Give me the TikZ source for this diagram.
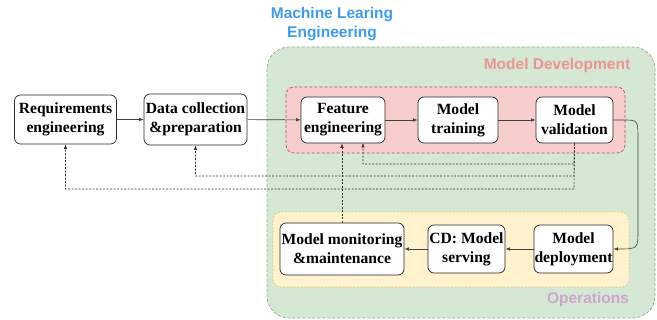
\documentclass[tikz,border=0pt]{standalone}
\usepackage{fontspec}
\setmainfont{Liberation Serif}
\newfontfamily\labelfont{Liberation Sans}
\usetikzlibrary{arrows.meta}
\definecolor{grnfill}{HTML}{D5E8D4}
\definecolor{grnline}{HTML}{8FAF8A}
\definecolor{redfill}{HTML}{F8CECC}
\definecolor{redline}{HTML}{B85450}
\definecolor{yelfill}{HTML}{FFF2CC}
\definecolor{yelline}{HTML}{E0C878}
\definecolor{titleblue}{HTML}{3D9BEF}
\definecolor{devred}{HTML}{EE9494}
\definecolor{opspurple}{HTML}{CDA6CC}
\tikzset{
  box/.style={draw=black!85, fill=white, rounded corners=6pt, line width=0.7pt, align=center,
    font=\fontsize{15.6}{19}\selectfont\bfseries, inner sep=0pt},
  flow/.style={draw=black!75, line width=0.6pt, -{Latex[length=4.5pt,width=3.5pt]}},
  back/.style={draw=black!80, line width=0.6pt, dash pattern=on 2pt off 1.5pt, -{Latex[length=4.5pt,width=3.5pt]}},
  grouplabel/.style={font=\labelfont\fontsize{15.5}{19}\selectfont\bfseries, align=center}
}
\begin{document}
\begin{tikzpicture}[x=1pt,y=-1pt]
\useasboundingbox (0,0) rectangle (657,320);
% containers
\draw[fill=grnfill, draw=grnline, dash pattern=on 3pt off 2pt, line width=0.7pt, rounded corners=22pt] (267,47) rectangle (655,318);
\draw[fill=redfill, draw=redline, dash pattern=on 3pt off 2pt, line width=0.7pt, rounded corners=8pt] (286,87) rectangle (625,153);
\draw[fill=yelfill, draw=yelline, dash pattern=on 2pt off 1.5pt, line width=0.6pt, rounded corners=8pt] (273,212) rectangle (629,287);
% labels
\node[grouplabel, text=titleblue] (title) at (332,24) {Machine Learing\\Engineering};
\node[grouplabel, text=devred] (devlabel) at (557,65) {Model Development};
\node[grouplabel, text=opspurple] (opslabel) at (588,299) {Operations};
% nodes
\node[box, minimum width=102pt, minimum height=49pt] (req) at (65.5,119.5) {Requirements\\engineering};
\node[box, minimum width=103pt, minimum height=51pt] (data) at (195.5,119.5) {Data collection\\\&preparation};
\node[box, minimum width=84pt, minimum height=46pt] (feat) at (343,120) {Feature\\engineering};
\node[box, minimum width=80pt, minimum height=46pt] (train) at (458,120) {Model\\training};
\node[box, minimum width=77pt, minimum height=46pt] (valid) at (574.5,120) {Model\\validation};
\node[box, minimum width=124pt, minimum height=52pt] (monitor) at (342,249) {Model monitoring\\\&maintenance};
\node[box, minimum width=77pt, minimum height=48pt] (serve) at (466.5,249) {CD: Model\\serving};
\node[box, minimum width=79pt, minimum height=48pt] (deploy) at (573.5,249) {Model\\deployment};
% flow arrows
\draw[flow] (req) -- (data);
\draw[flow] (data) -- (feat);
\draw[flow] (feat) -- (train);
\draw[flow] (train) -- (valid);
\draw[flow] (valid.east) -- ++(10,0) .. controls (638,120) .. (638,140) -- (638,230) .. controls (638,249) .. (deploy.east);
\draw[flow] (deploy) -- (serve);
\draw[flow] (serve) -- (monitor);
% feedback
\coordinate (v1) at (valid.south);
\draw[back] (v1) -- (574,164) -| (363,143);
\draw[back] (v1) -- (574,176) -| (data.south);
\draw[back] (v1) -- (574,189) -| (req.south);
\draw[back] (monitor.north) -- (monitor.north |- feat.south);
\end{tikzpicture}
\end{document}
